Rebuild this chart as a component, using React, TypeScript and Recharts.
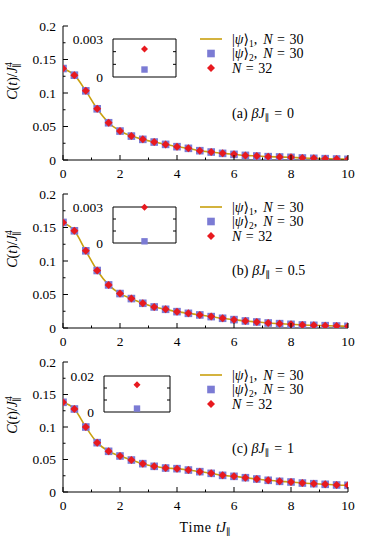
import React from "react";
import { ComposedChart, ScatterChart, Line, Scatter, XAxis, YAxis, ReferenceArea } from "recharts";

const FONT = "'Liberation Serif', 'DejaVu Serif', serif";
const GOLD = "#c9a00e";
const BLUE = "#7b7bd4";
const RED = "#e8191f";

// time grid of the markers
const times = [0, 0.4, 0.8, 1.2, 1.6, 2, 2.4, 2.8, 3.2, 3.6, 4, 4.4, 4.8, 5.2, 5.6, 6, 6.4, 6.8, 7.2, 7.6, 8, 8.4, 8.8, 9.2, 9.6, 10];

// C(t)/J^4
const corrA = [0.1365, 0.1266, 0.1032, 0.0764, 0.0556, 0.0432, 0.0357, 0.0308, 0.0268, 0.0233, 0.0199, 0.0174, 0.0139, 0.0119, 0.0099, 0.0084, 0.0069, 0.006, 0.005, 0.0045, 0.004, 0.003, 0.0025, 0.002, 0.0015, 0.001];
const corrB = [0.1576, 0.1451, 0.1152, 0.0858, 0.0643, 0.0514, 0.0439, 0.0369, 0.0314, 0.0279, 0.0244, 0.0219, 0.0195, 0.017, 0.0145, 0.0125, 0.0105, 0.009, 0.0075, 0.0065, 0.0055, 0.0045, 0.004, 0.0035, 0.003, 0.0025];
const corrC = [0.138, 0.1277, 0.1, 0.0759, 0.0626, 0.0554, 0.0492, 0.0436, 0.0395, 0.0369, 0.0359, 0.0338, 0.0313, 0.0287, 0.0256, 0.0241, 0.022, 0.02, 0.018, 0.0164, 0.0154, 0.0138, 0.0128, 0.0118, 0.0108, 0.0103];

// insets
const insetRed = [0.00222, 0.00297, 0.0152];
const insetBlue = [0.00059, 0.00014, 0.0019];
const insetMax = [0.003, 0.003, 0.02];
const insetMaxLabels = ["0.003", "0.003", "0.02"];

const xTicks = [0, 1, 2, 3, 4, 5, 6, 7, 8, 9, 10];
const yTicks = [0, 0.025, 0.05, 0.075, 0.1, 0.125, 0.15, 0.175, 0.2];
const panelTags = ["(a)", "(b)", "(c)"];
const betaValues = ["0", "0.5", "1"];

const tickTxt = { fontSize: 13.5, fontFamily: FONT, fill: "#000" };
const txt = { fontSize: 14, fontFamily: FONT, fill: "#000" };
const sub = { fontSize: 9.5 };

const isMajorY = (v: number) => Math.round(v * 1000) % 50 === 0;

const TickBottom = (p: any) => {
  const v = p.payload.value;
  const major = v % 2 === 0;
  return (
    <g>
      <line x1={p.x} x2={p.x} y1={p.y} y2={p.y - (major ? 5 : 2.5)} stroke="#000" />
      {major && (
        <text x={p.x} y={p.y + 18} textAnchor="middle" {...tickTxt}>
          {v}
        </text>
      )}
    </g>
  );
};

const TickTop = (p: any) => {
  const major = p.payload.value % 2 === 0;
  return <line x1={p.x} x2={p.x} y1={p.y} y2={p.y + (major ? 5 : 2.5)} stroke="#000" />;
};

const TickLeft = (p: any) => {
  const v = p.payload.value;
  const major = isMajorY(v);
  return (
    <g>
      <line x1={p.x} x2={p.x + (major ? 5 : 2.5)} y1={p.y} y2={p.y} stroke="#000" />
      {major && (
        <text x={p.x - 7} y={p.y + 4.5} textAnchor="end" {...tickTxt}>
          {String(v)}
        </text>
      )}
    </g>
  );
};

const TickRight = (p: any) => {
  const major = isMajorY(p.payload.value);
  return <line x1={p.x} x2={p.x - (major ? 5 : 2.5)} y1={p.y} y2={p.y} stroke="#000" />;
};

const Square = (p: any) => <rect x={p.cx - 3.8} y={p.cy - 3.8} width={7.6} height={7.6} fill={BLUE} />;
const Diamond = (p: any) => (
  <polygon
    points={`${p.cx},${p.cy - 4} ${p.cx + 4},${p.cy} ${p.cx},${p.cy + 4} ${p.cx - 4},${p.cy}`}
    fill={RED}
  />
);
const SmallSquare = (p: any) => <rect x={p.cx - 3.2} y={p.cy - 3.2} width={6.4} height={6.4} fill={BLUE} />;
const SmallDiamond = (p: any) => (
  <polygon
    points={`${p.cx},${p.cy - 3.5} ${p.cx + 3.5},${p.cy} ${p.cx},${p.cy + 3.5} ${p.cx - 3.5},${p.cy}`}
    fill={RED}
  />
);

function Panel({ top, height, values }: { top: number; height: number; values: number[] }) {
  const rows = times.map((t, i) => ({ t, c: values[i] }));
  return (
    <div style={{ position: "absolute", left: 0, top }}>
      <ComposedChart width={374} height={height} data={rows} margin={{ top: 26, right: 26, left: 0, bottom: 0 }}>
        <XAxis xAxisId="b" dataKey="t" type="number" domain={[0, 10]} ticks={xTicks} interval={0}
          tickSize={0} tickMargin={0} tickLine={false} tick={<TickBottom />} height={20}
          axisLine={{ stroke: "#000" }} allowDataOverflow />
        <XAxis xAxisId="t" orientation="top" dataKey="t" type="number" domain={[0, 10]} ticks={xTicks}
          interval={0} tickSize={0} tickMargin={0} tickLine={false} tick={<TickTop />} height={0}
          axisLine={{ stroke: "#000" }} allowDataOverflow />
        <YAxis yAxisId="l" type="number" domain={[0, 0.2]} ticks={yTicks} interval={0} tickSize={0}
          tickMargin={0} tickLine={false} tick={<TickLeft />} width={63} axisLine={{ stroke: "#000" }}
          allowDataOverflow />
        <YAxis yAxisId="r" orientation="right" type="number" domain={[0, 0.2]} ticks={yTicks} interval={0}
          tickSize={0} tickMargin={0} tickLine={false} tick={<TickRight />} width={0}
          axisLine={{ stroke: "#000" }} allowDataOverflow />
        <Line xAxisId="b" yAxisId="l" dataKey="c" type="monotone" stroke={GOLD} strokeWidth={1.6}
          dot={false} isAnimationActive={false} />
        <Line xAxisId="t" yAxisId="r" dataKey="c" stroke="none" dot={false} isAnimationActive={false} />
        <Scatter xAxisId="b" yAxisId="l" data={rows} dataKey="c" shape={Square} isAnimationActive={false} />
        <Scatter xAxisId="b" yAxisId="l" data={rows} dataKey="c" shape={Diamond} isAnimationActive={false} />
      </ComposedChart>
    </div>
  );
}

const InsetTick = (p: any) => {
  const { value } = p.payload;
  const end = value === 0 || Math.abs(value - p.max) < 1e-9;
  const inner = !end;
  return (
    <g>
      {inner && <line x1={p.x} x2={p.x + 3} y1={p.y} y2={p.y} stroke="#000" />}
      {inner && <line x1={p.x + p.w} x2={p.x + p.w - 3} y1={p.y} y2={p.y} stroke="#000" />}
      {end && (
        <text x={p.x - 10} y={p.y + 4.5} textAnchor="end" {...tickTxt}>
          {value === 0 ? "0" : p.label}
        </text>
      )}
    </g>
  );
};

function Inset({ box, i }: { box: { x: number; y: number; w: number; h: number }; i: number }) {
  const max = insetMax[i];
  const ticks = [0, max / 3, (2 * max) / 3, max];
  return (
    <div style={{ position: "absolute", left: box.x - 50, top: box.y - 12 }}>
      <ScatterChart width={box.w + 54} height={box.h + 24} margin={{ top: 12, right: 4, left: 0, bottom: 12 }}>
        <XAxis type="number" dataKey="x" domain={[0, 1]} hide />
        <YAxis type="number" dataKey="y" domain={[0, max]} ticks={ticks} interval={0} tickSize={0}
          tickMargin={0} tickLine={false} width={50} axisLine={false}
          tick={<InsetTick max={max} w={box.w} label={insetMaxLabels[i]} />} />
        <ReferenceArea x1={0} x2={1} y1={0} y2={max} fill="none" stroke="#000" strokeWidth={1} />
        <Scatter data={[{ x: 0.5, y: insetBlue[i] }]} shape={SmallSquare} isAnimationActive={false} />
        <Scatter data={[{ x: 0.5, y: insetRed[i] }]} shape={SmallDiamond} isAnimationActive={false} />
      </ScatterChart>
    </div>
  );
}

const panels = [
  { top: 0, height: 180, values: corrA, plotTop: 26, plotBottom: 160, annotY: 113, inset: { x: 113, y: 39, w: 63, h: 38 } },
  { top: 168, height: 180, values: corrB, plotTop: 194, plotBottom: 328, annotY: 270, inset: { x: 113, y: 207, w: 63, h: 36 } },
  { top: 336, height: 176, values: corrC, plotTop: 362, plotBottom: 492, annotY: 448, inset: { x: 104, y: 376, w: 66, h: 36 } },
];

const Psi = ({ n }: { n: string }) => (
  <>
    |<tspan fontStyle="italic">ψ</tspan>⟩<tspan dy={3} {...sub}>{n}</tspan>
    <tspan dy={-3}>,</tspan>
    <tspan dx={6} fontStyle="italic">N</tspan>
    <tspan dx={4.5}>=</tspan>
    <tspan dx={4.5}>30</tspan>
  </>
);

export default function App() {
  return (
    <div style={{ position: "absolute", left: 0, top: 0, width: 374, height: 540, background: "#fff" }}>
      {panels.map((p, i) => (
        <React.Fragment key={i}>
          <Panel top={p.top} height={p.height} values={p.values} />
          <Inset box={p.inset} i={i} />
        </React.Fragment>
      ))}
      <svg width={374} height={540} style={{ position: "absolute", left: 0, top: 0, pointerEvents: "none" }}>
        {panels.map((p, i) => {
          const cy = (p.plotTop + p.plotBottom) / 2 - 12;
          const r1 = p.plotTop + 13;
          const r2 = p.plotTop + 27.5;
          const r3 = p.plotTop + 42;
          return (
            <g key={i}>
              <text transform={`translate(17, ${cy}) rotate(-90)`} textAnchor="middle" {...txt}>
                <tspan fontStyle="italic">C</tspan>(<tspan fontStyle="italic">t</tspan>)/<tspan fontStyle="italic">J</tspan>
                <tspan dy={-5} {...sub}>4</tspan>
                <tspan dx={-5.5} dy={8} {...sub}>∥</tspan>
              </text>
              <line x1={200} x2={222} y1={r1} y2={r1} stroke={GOLD} strokeWidth={1.6} />
              <text x={232} y={r1 + 4.5} {...txt}>
                <Psi n="1" />
              </text>
              <Square cx={211} cy={r2} />
              <text x={232} y={r2 + 4.5} {...txt}>
                <Psi n="2" />
              </text>
              <Diamond cx={211} cy={r3} />
              <text x={232} y={r3 + 4.5} {...txt}>
                <tspan fontStyle="italic">N</tspan>
                <tspan dx={4.5}>=</tspan>
                <tspan dx={4.5}>32</tspan>
              </text>
              <text x={232} y={p.annotY + 4.5} {...txt}>
                {panelTags[i]}
                <tspan dx={4} fontStyle="italic">βJ</tspan>
                <tspan dy={3} {...sub}>∥</tspan>
                <tspan dx={5} dy={-3}>=</tspan>
                <tspan dx={5}>{betaValues[i]}</tspan>
              </text>
            </g>
          );
        })}
        <text x={205} y={532} textAnchor="middle" {...txt}>
          <tspan letterSpacing={0.8}>Time</tspan>
          <tspan dx={4} fontStyle="italic">tJ</tspan>
          <tspan dy={3} {...sub}>∥</tspan>
        </text>
      </svg>
    </div>
  );
}
